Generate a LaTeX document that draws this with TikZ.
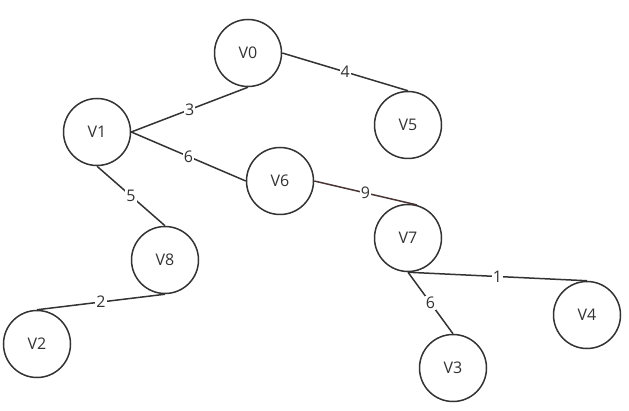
\documentclass[tikz,border=0pt]{standalone}
\usepackage{fontspec}
\setmainfont{Open Sans}
\usetikzlibrary{positioning}
\definecolor{ink}{HTML}{333333}
\definecolor{redink}{HTML}{4A3535}
\tikzset{
    vertex/.style={
           circle,
           draw=ink, line width=1.5pt,
           minimum size=67pt,
           inner sep=0pt,
           text=ink,
           font=\fontsize{16}{19}\selectfont,
           },
    weight/.style={
           fill=white,
           inner sep=1pt,
           text=ink,
           font=\fontsize{16}{19}\selectfont,
           },
    link/.style={draw=ink, line width=1.5pt},
}

\begin{document}
\begin{tikzpicture}[x=1pt,y=-1pt]

    \useasboundingbox (0,0) rectangle (629,411);

    \node[vertex] (V0) at (248,53)  {V0};
    \node[vertex] (V5) at (408,125) {V5};
    \node[vertex] (V1) at (97,132)  {V1};
    \node[vertex] (V6) at (280,181) {V6};
    \node[vertex] (V7) at (408,238) {V7};
    \node[vertex] (V8) at (165,260) {V8};
    \node[vertex] (V2) at (37,344)  {V2};
    \node[vertex] (V4) at (587,315) {V4};
    \node[vertex] (V3) at (453,368) {V3};

    \path (V0.east)  edge[link] node[weight]{4} (V5.north);
    \path (V1.east)  edge[link] node[weight]{3} (V0.south);
    \path (V1.east)  edge[link] node[weight]{6} (V6.west);
    \path (V1.south) edge[link] node[weight]{5} (V8.north);
    \path (V6.east)  edge[link,draw=redink] node[weight]{9} (V7.75);
    \path (V8.south) edge[link] node[weight]{2} (V2.north);
    \path (V7.south) edge[link] node[weight]{1} (V4.north);
    \path (V7.south) edge[link] node[weight]{6} (V3.north);

\end{tikzpicture}
\end{document}
